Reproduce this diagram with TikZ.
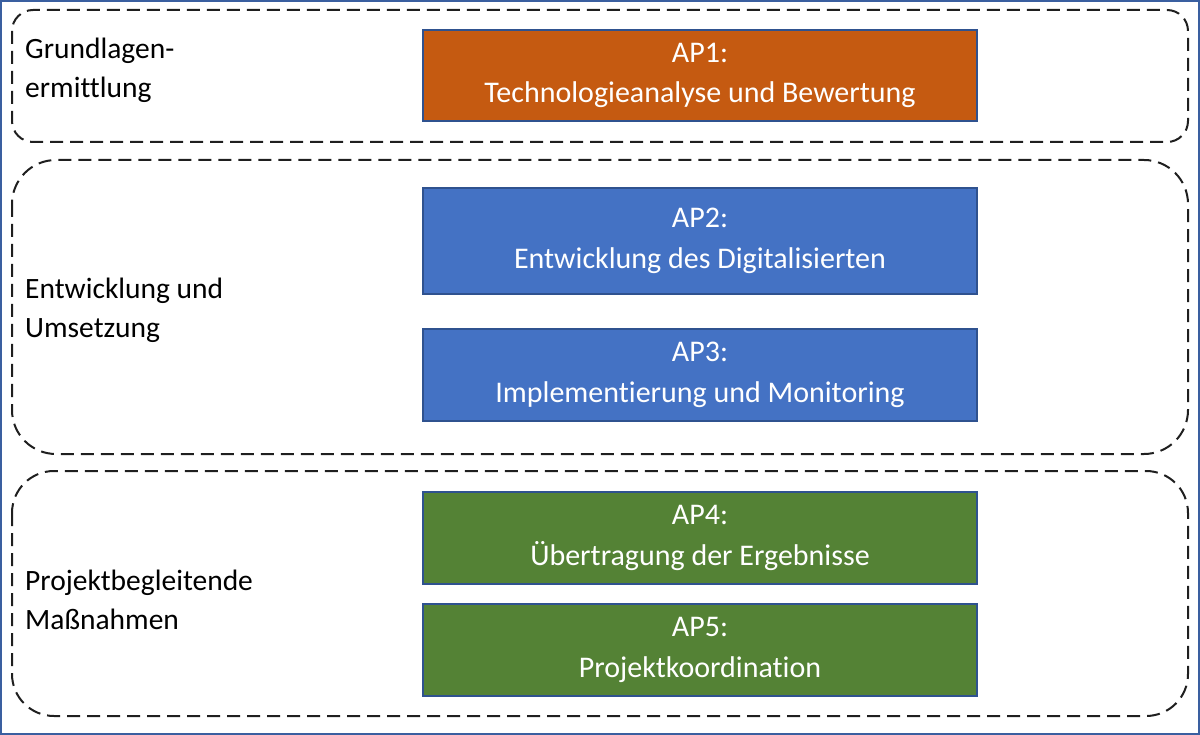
\documentclass[tikz,border=0pt]{standalone}
\usepackage{fontspec}
\setmainfont{Carlito}[Ligatures=CommonOff]
\usetikzlibrary{positioning}
\definecolor{apOrange}{HTML}{C55A11}
\definecolor{apBlue}{HTML}{4472C4}
\definecolor{apGreen}{HTML}{548235}
\definecolor{apEdge}{HTML}{2F528F}
\definecolor{frameBlue}{HTML}{3A5FA0}
\tikzset{
  group/.style={draw=black!88, line width=2pt, dash pattern=on 13pt off 7pt},
  apbox/.style={draw=apEdge, line width=1.5pt, inner sep=0pt, text=white,
    font=\fontsize{30}{40.5}\selectfont, align=center},
  grouplabel/.style={anchor=west, align=left, inner sep=0pt,
    font=\fontsize{29.5}{39}\selectfont, text=black}
}
\begin{document}
\begin{tikzpicture}[x=1pt,y=-1pt]
\useasboundingbox (0,0) rectangle (1200,735);
\draw[frameBlue, line width=2.2pt] (1.1,1.1) rectangle (1198.9,733.9);

% groups
\draw[group, rounded corners=21pt] (12,10) rectangle (1188,142);
\draw[group, rounded corners=44pt] (12,160) rectangle (1188,454);
\draw[group, rounded corners=42pt] (12,471) rectangle (1188,716);

% group labels
\node[grouplabel] (g1) at (25,70) {Grundlagen-\\ermittlung};
\node[grouplabel] (g2) at (25,310) {Entwicklung und\\Umsetzung};
\node[grouplabel] (g3) at (25,600) {Projektbegleitende\\Maßnahmen};

% AP boxes
\node[apbox, fill=apOrange, minimum width=554pt, minimum height=91pt] (ap1) at (700,75.5) {AP1:\\Technologieanalyse und Bewertung};
\node[apbox, fill=apBlue, minimum width=554pt, minimum height=106pt] (ap2) at (700,241) {AP2:\\Entwicklung des Digitalisierten};
\node[apbox, fill=apBlue, minimum width=554pt, minimum height=92pt] (ap3) at (700,375) {AP3:\\Implementierung und Monitoring};
\node[apbox, fill=apGreen, minimum width=554pt, minimum height=92pt] (ap4) at (700,538) {AP4:\\Übertragung der Ergebnisse};
\node[apbox, fill=apGreen, minimum width=554pt, minimum height=92pt] (ap5) at (700,650) {AP5:\\Projektkoordination};
\end{tikzpicture}
\end{document}
